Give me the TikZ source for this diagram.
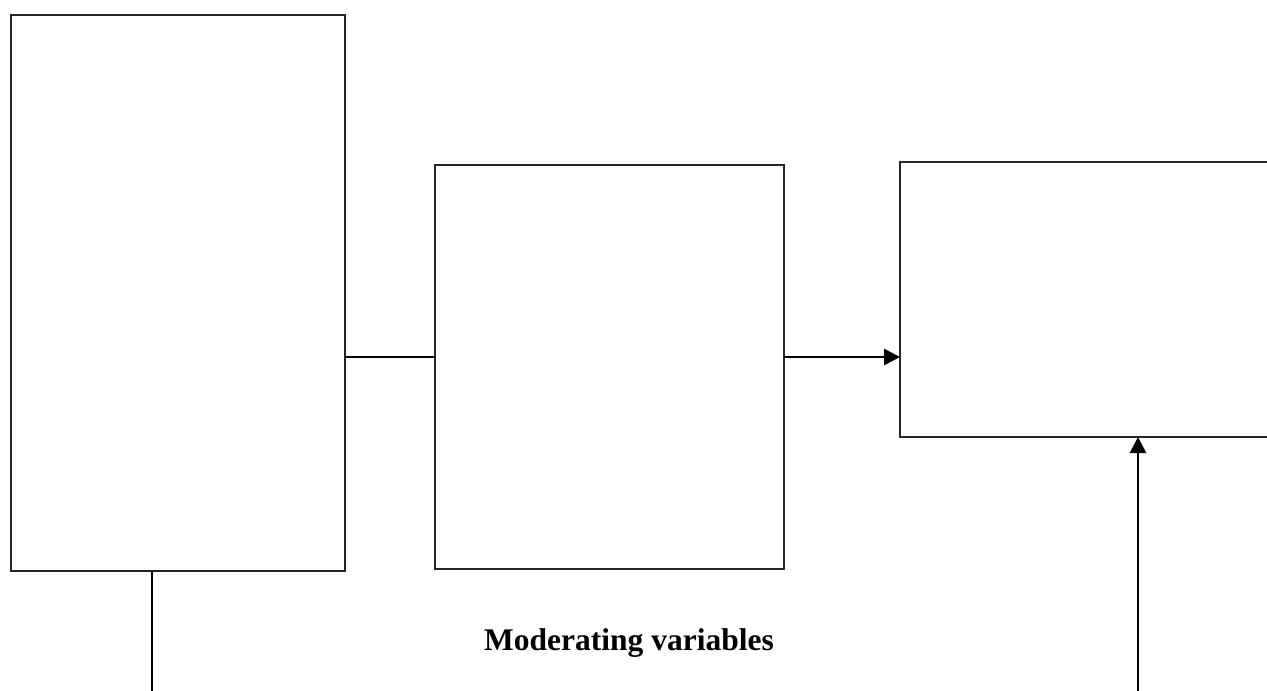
\documentclass[tikz,border=0pt]{standalone}
\usepackage{fontspec}
\setmainfont{Liberation Serif}
\usetikzlibrary{arrows.meta}
\begin{document}
\begin{tikzpicture}[x=1pt,y=-1pt,
  box/.style={draw=black!85,line width=1.5pt,inner sep=0pt,outer sep=0pt,fill=none},
  link/.style={draw=black,line width=1.7pt},
  arr/.style={draw=black,line width=2.8pt,-{Triangle[length=16pt,width=16pt]}}]
\useasboundingbox (0,0) rectangle (1267,691);
\node[box,minimum width=334pt,minimum height=556pt] (b1) at (178,293) {};
\node[box,minimum width=349pt,minimum height=404pt] (b2) at (609.5,367) {};
\node[box,minimum width=380pt,minimum height=275pt,anchor=north west] (b3) at (900,162) {};
\coordinate (c1) at (152,691);
\coordinate (c2) at (1138,691);
\draw[link] (b1.east |- 0,357) -- (b2.west |- 0,357);
\draw[arr] (b2.east |- 0,357) -- (b3.west |- 0,357);
\draw[link] (c1 |- b1.south) -- (c1);
\draw[arr] (c2) -- (c2 |- b3.south);
\node[font=\bfseries\fontsize{31.5}{36}\selectfont,anchor=base] (t) at (629,650) {Moderating variables};
\end{tikzpicture}
\end{document}
